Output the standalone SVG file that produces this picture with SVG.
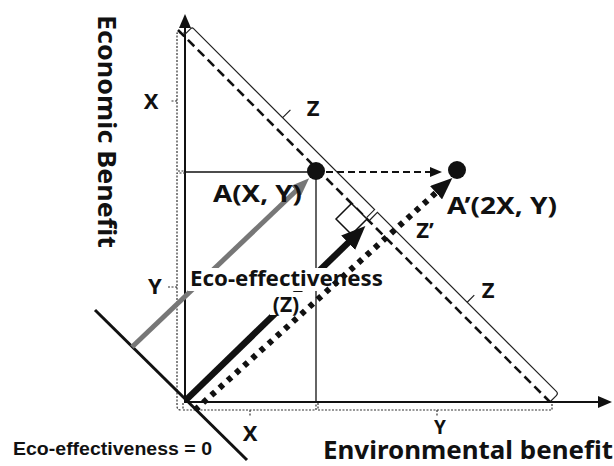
<svg xmlns="http://www.w3.org/2000/svg" width="614" height="466" viewBox="0 0 614 466">
<style>
.t{font-family:"Noto Sans","Liberation Sans",Arial,sans-serif;font-weight:bold;fill:#111}
.ax{stroke:#111;stroke-width:2;fill:none}
.thin{stroke:#111;stroke-width:1.3;fill:none}
.br{stroke:#333;stroke-width:1.2;fill:none;stroke-dasharray:2 1.5}
.obr{stroke:#222;stroke-width:1.2;fill:none}
</style>
<defs>
<marker id="axh" markerUnits="userSpaceOnUse" markerWidth="14" markerHeight="12" refX="2" refY="6" orient="auto"><path d="M0,0 L14,6 L0,12 z" fill="#111"/></marker>
<marker id="bkh" markerUnits="userSpaceOnUse" markerWidth="24" markerHeight="20" refX="4" refY="10" orient="auto"><path d="M0,0 L24,10 L0,20 z" fill="#111"/></marker>
<marker id="grh" markerUnits="userSpaceOnUse" markerWidth="18" markerHeight="14" refX="4" refY="7" orient="auto"><path d="M0,0 L18,7 L0,14 z" fill="#777"/></marker>
<marker id="dsh" markerUnits="userSpaceOnUse" markerWidth="12" markerHeight="10" refX="4" refY="5" orient="auto"><path d="M0,0 L12,5 L0,10 z" fill="#111"/></marker>
<marker id="dth" markerUnits="userSpaceOnUse" markerWidth="22" markerHeight="18" refX="4" refY="9" orient="auto"><path d="M0,0 L22,9 L0,18 z" fill="#111"/></marker>
</defs>

<g id="axes">
<line class="ax" x1="185" y1="403" x2="185" y2="26" marker-end="url(#axh)"/>
<line class="ax" x1="184" y1="402" x2="600" y2="402" marker-end="url(#axh)"/>
</g>

<g id="brackets">
<path class="br" d="M185,33 L177,33 L177,171 L185,171 M177,101 L170,101"/>
<path class="br" d="M185,173 L177,173 L177,406 Q177,410 181,410 M177,287 L167,287"/>
<path class="br" d="M183,403 L183,410 L316,410 L316,403 M250,410 L250,416"/>
<path class="br" d="M318,403 L318,410 L552,410 L552,403 M437,410 L437,417"/>
<g transform="translate(178,30) rotate(45)">
<path class="obr" d="M8,-1 L8,-10 Q8,-12 10,-12 L266,-12 L266,-1 M136,-12 L136,-23"/>
<path class="obr" d="M270,-1 L270,-12 L523,-12 Q526,-12 526,-9 L526,-1 M397,-12 L397,-22"/>
</g>
</g>

<g id="connectors">
<line x1="178" y1="30" x2="550" y2="402" stroke="#111" stroke-width="2.6" stroke-dasharray="9 5"/>
<line class="thin" x1="185" y1="172" x2="316" y2="172"/>
<line class="thin" x1="316" y1="172" x2="316" y2="402"/>
<line x1="95" y1="310" x2="247" y2="460" stroke="#111" stroke-width="3"/>
<line x1="326" y1="172" x2="434" y2="172" stroke="#111" stroke-width="2" stroke-dasharray="7 4" marker-end="url(#dsh)"/>
<line x1="132" y1="347" x2="299" y2="188" stroke="#777" stroke-width="5" marker-end="url(#grh)"/>
<path d="M367,219 L351.5,203.5 L336,219 L351.5,234.5 z" fill="#fff" stroke="#111" stroke-width="1.5"/>
<line x1="186" y1="400" x2="351" y2="240" stroke="#111" stroke-width="6.5" marker-end="url(#bkh)"/>
</g>

<g id="ecoLabel">
<rect x="188" y="268" width="197" height="23" fill="#fff"/>
<rect x="270" y="292" width="33" height="23" fill="#fff"/>
<text class="t" x="190" y="286" font-size="21" textLength="193" lengthAdjust="spacingAndGlyphs">Eco-effectiveness</text>
<text class="t" x="286" y="312" font-size="21" text-anchor="middle">(Z)</text>
</g>

<g id="connectors-top">
<line x1="195" y1="410" x2="439" y2="190" stroke="#111" stroke-width="6" stroke-dasharray="5 6" marker-end="url(#dth)"/>
</g>

<g id="pointA"><circle cx="316" cy="171" r="9" fill="#111"/><text class="t" x="213" y="202" font-size="23" textLength="89" lengthAdjust="spacingAndGlyphs">A(X, Y)</text></g>
<g id="pointA2"><circle cx="457" cy="170" r="9" fill="#111"/><text class="t" x="447" y="214" font-size="23" textLength="110" lengthAdjust="spacingAndGlyphs">A’(2X, Y)</text></g>

<g id="labels">
<text class="t" transform="translate(98,15) rotate(90)" font-size="25" textLength="233" lengthAdjust="spacingAndGlyphs">Economic Benefit</text>
<text class="t" x="151" y="109" font-size="22" text-anchor="middle">X</text>
<text class="t" x="155" y="294" font-size="22" text-anchor="middle">Y</text>
<text class="t" x="313" y="116" font-size="22" text-anchor="middle">Z</text>
<text class="t" x="488" y="298" font-size="22" text-anchor="middle">Z</text>
<text class="t" x="425" y="238" font-size="22" text-anchor="middle">Z’</text>
<text class="t" x="250" y="441" font-size="22" text-anchor="middle">X</text>
<text class="t" x="440" y="434" font-size="19" text-anchor="middle">Y</text>
<text class="t" x="323" y="459" font-size="25" textLength="290" lengthAdjust="spacingAndGlyphs">Environmental benefit</text>
<text x="13" y="455" font-family="'Liberation Sans',Arial,sans-serif" font-weight="bold" font-size="18" fill="#111" textLength="199" lengthAdjust="spacingAndGlyphs">Eco-effectiveness = 0</text>
</g>
</svg>
